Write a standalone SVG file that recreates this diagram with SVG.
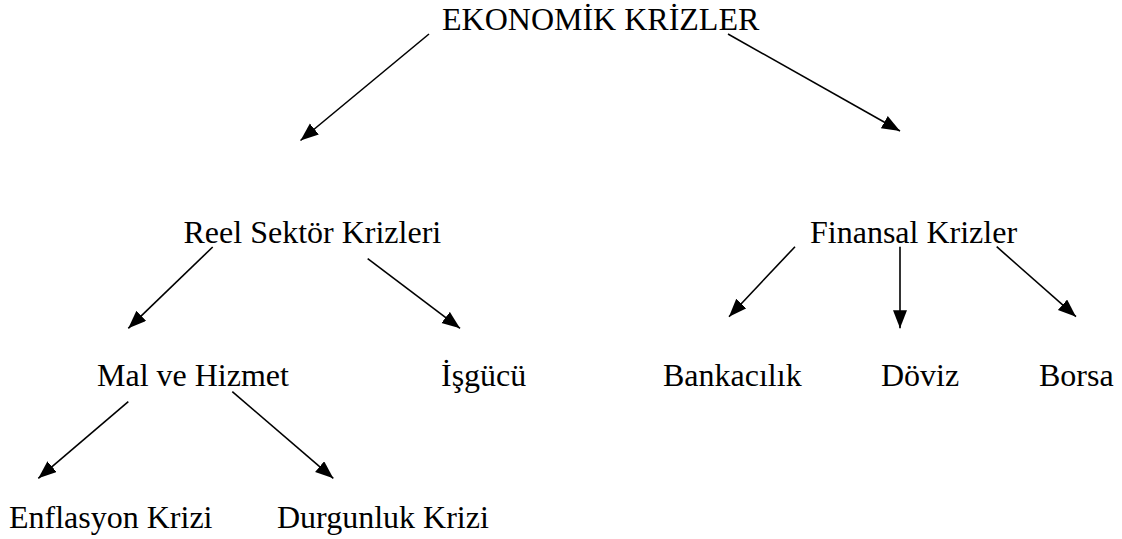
<svg xmlns="http://www.w3.org/2000/svg" width="1122" height="539" viewBox="0 0 1122 539" font-family="'Liberation Serif', 'Times New Roman', serif">
<style>
.t{font-family:"Liberation Serif","Times New Roman",serif;font-size:32px;fill:#000}
.c line{stroke:#000;stroke-width:1.6;marker-end:url(#ah)}
</style>
<defs>
<marker id="ah" markerUnits="userSpaceOnUse" markerWidth="20" markerHeight="16" refX="18" refY="7" orient="auto">
<path d="M0,0 L18,7 L0,14 z" fill="#000"/>
</marker>
</defs>
<rect width="1122" height="539" fill="#fff"/>
<g id="n-ekonomik"><text class="t" x="442" y="30">EKONOMİK KRİZLER</text></g>
<g id="n-reel"><text class="t" x="183.5" y="243">Reel Sektör Krizleri</text></g>
<g id="n-finansal"><text class="t" x="810" y="243">Finansal Krizler</text></g>
<g id="n-mal"><text class="t" x="97" y="386">Mal ve Hizmet</text></g>
<g id="n-isgucu"><text class="t" x="441" y="386">İşgücü</text></g>
<g id="n-bankacilik"><text class="t" x="663" y="386">Bankacılık</text></g>
<g id="n-doviz"><text class="t" x="881" y="386">Döviz</text></g>
<g id="n-borsa"><text class="t" x="1039" y="386">Borsa</text></g>
<g id="n-enflasyon"><text class="t" x="9" y="528">Enflasyon Krizi</text></g>
<g id="n-durgunluk"><text class="t" x="277" y="528">Durgunluk Krizi</text></g>
<g id="connectors" class="c">
<line x1="429" y1="34" x2="300.5" y2="140.5"/>
<line x1="728" y1="34" x2="900" y2="131"/>
<line x1="212.7" y1="247" x2="128.3" y2="328.3"/>
<line x1="367.7" y1="258.7" x2="460" y2="328.3"/>
<line x1="795" y1="246.7" x2="729" y2="316.7"/>
<line x1="900" y1="246.7" x2="900" y2="328.3"/>
<line x1="996.7" y1="246.7" x2="1076" y2="316.7"/>
<line x1="128.3" y1="401.7" x2="38.3" y2="478.3"/>
<line x1="232.3" y1="391.7" x2="333.3" y2="478.3"/>
</g>
</svg>
